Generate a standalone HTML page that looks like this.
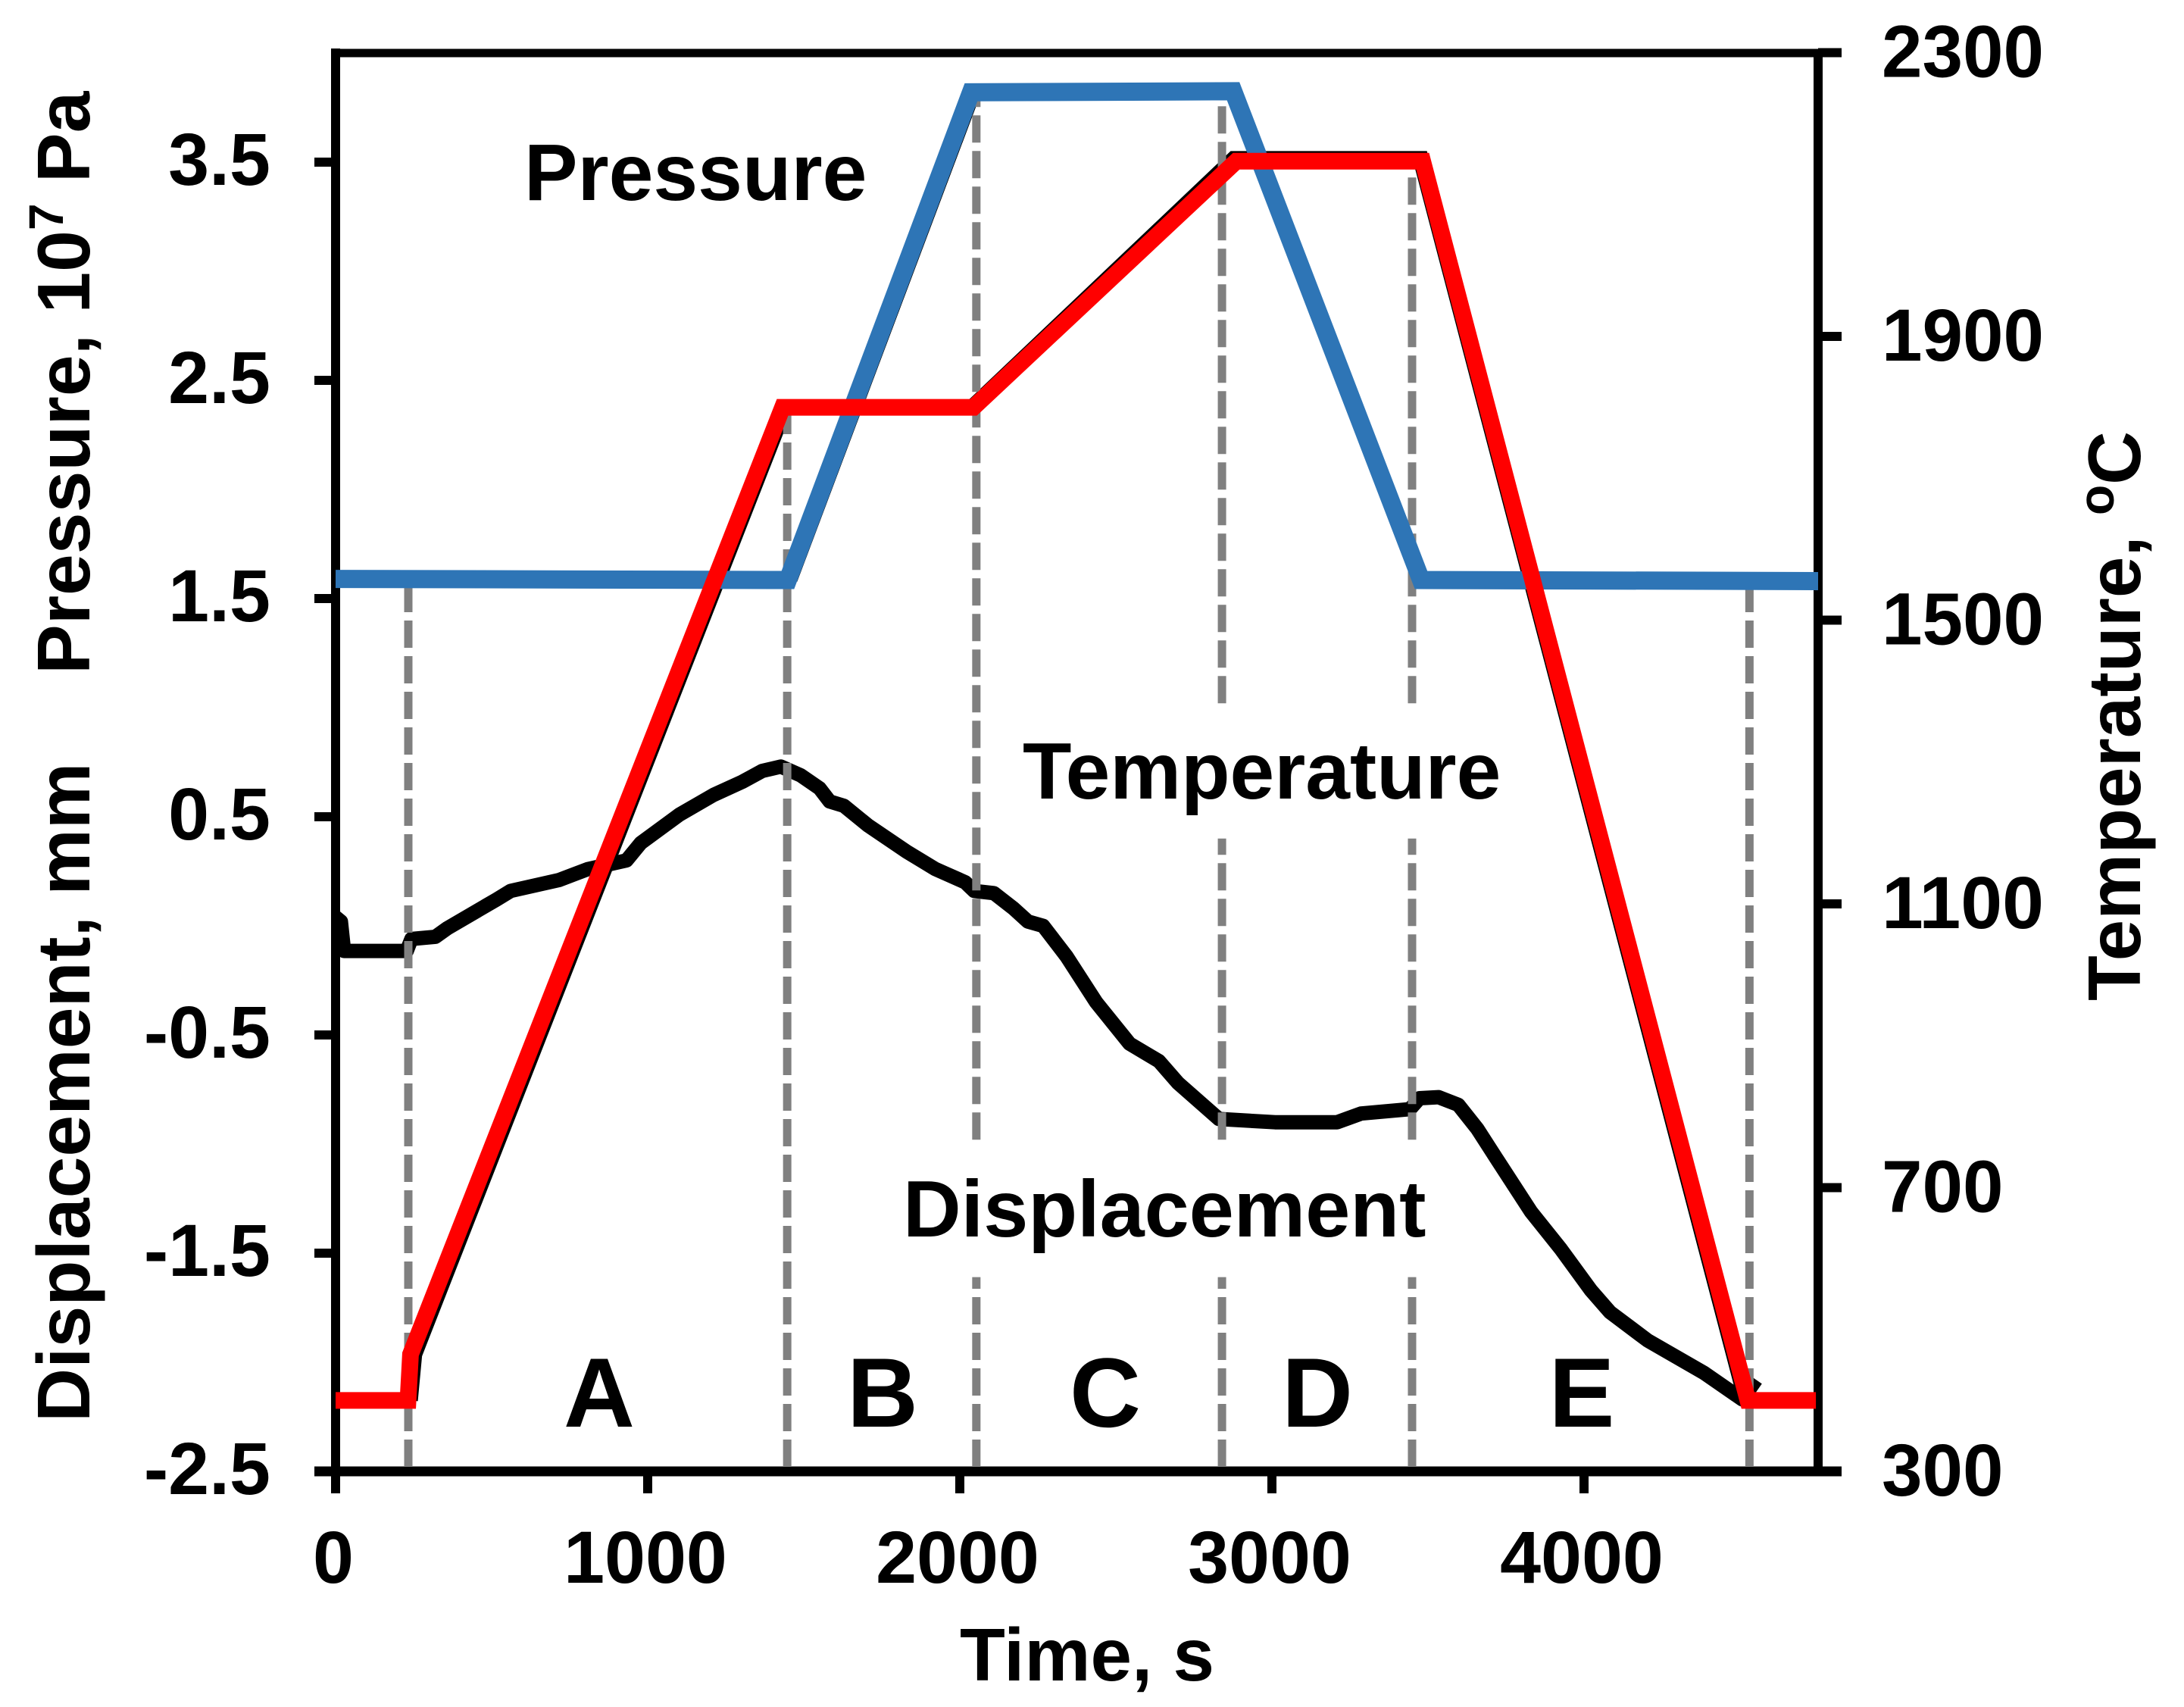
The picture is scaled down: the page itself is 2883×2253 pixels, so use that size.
<!DOCTYPE html>
<html lang="en">
<head>
<meta charset="utf-8">
<title>Pressure, temperature and displacement versus time</title>
<style>
html,body{margin:0;padding:0;background:#fff;}
svg{display:block;}
text{font-family:"Liberation Sans",Arial,sans-serif;font-weight:bold;fill:#000;}
</style>
</head>
<body>
<svg id="chart" xmlns="http://www.w3.org/2000/svg" width="2883" height="2253" viewBox="0 0 2883 2253">
  <rect x="0" y="0" width="2883" height="2253" fill="#ffffff"/>
  <g id="axes"></g>
  <g id="shadows"></g>
  <g id="black"></g>
  <g id="boundaries"></g>
  <g id="series"></g>
  <g id="ticklabels"></g>

  <text font-size="98.5" transform="translate(118 1877) rotate(-90)">Displacement, mm</text>
  <text font-size="98.5" transform="translate(118 890) rotate(-90)">Pressure, 10<tspan font-size="64" dy="-35">7</tspan><tspan dy="35"> Pa</tspan></text>
  <text font-size="98" transform="translate(2825 1321) rotate(-90)">Temperature, <tspan font-size="66" dy="-35">o</tspan><tspan dy="35">C</tspan></text>
  <text font-size="98" text-anchor="middle" x="1435" y="2218">Time, s</text>

  <text font-size="105.7" x="692" y="264">Pressure</text>
  <text font-size="105.5" x="1350" y="1054">Temperature</text>
  <text font-size="106.2" x="1192" y="1632">Displacement</text>

  <text font-size="130" text-anchor="middle" x="791" y="1883">A</text>
  <text font-size="130" text-anchor="middle" x="1165" y="1883">B</text>
  <text font-size="130" text-anchor="middle" x="1459" y="1883">C</text>
  <text font-size="130" text-anchor="middle" x="1739" y="1883">D</text>
  <text font-size="130" text-anchor="middle" x="2088" y="1883">E</text>
</svg>
<script>
// ---- chart data ----
const xTicks = [0, 1000, 2000, 3000, 4000];
const leftTicks = [-2.5, -1.5, -0.5, 0.5, 1.5, 2.5, 3.5];
const leftTickLabels = ["-2.5", "-1.5", "-0.5", "0.5", "1.5", "2.5", "3.5"];
const rightTicks = [300, 700, 1100, 1500, 1900, 2300];

const pressureTime = [0, 1449, 2036, 2876, 3478, 4750];
const pressureValue = [1.59, 1.585, 3.82, 3.825, 1.585, 1.58];

const temperatureTime = [0, 232, 240, 1432, 2044, 2886, 3483, 4525, 4743];
const temperatureValue = [400, 400, 465, 1800, 1800, 2147, 2147, 400, 400];

const measuredTempTime = [238, 252, 1440, 2040, 2878, 3477, 4519];
const measuredTempValue = [400, 465, 1800, 1800, 2150, 2150, 400];

const measuredPressTime = [1455, 2042];
const measuredPressValue = [1.59, 3.82];

const displacementTime = [0,17,27,228,243,320,359,515,561,716,808,932,978,1102,1211,1303,1367,1427,1490,1551,1583,1629,1706,1830,1922,2017,2046,2109,2172,2218,2267,2342,2437,2544,2638,2699,2830,3010,3209,3286,3442,3473,3534,3597,3658,3721,3830,3925,4022,4083,4204,4386,4507,4551];
const displacementValue = [0.04,0.02,-0.115,-0.115,-0.06,-0.05,-0.01,0.12,0.16,0.21,0.26,0.30,0.38,0.51,0.60,0.66,0.71,0.73,0.69,0.63,0.57,0.55,0.46,0.34,0.26,0.20,0.16,0.15,0.08,0.02,0.00,-0.14,-0.35,-0.54,-0.62,-0.72,-0.885,-0.90,-0.90,-0.86,-0.84,-0.79,-0.785,-0.82,-0.93,-1.07,-1.31,-1.48,-1.67,-1.77,-1.90,-2.05,-2.17,-2.08];

const boundaryTime = [233, 1447, 2053, 2840, 3449, 4530];
const boundaryTop = [1.57, 2.34, 3.86, 3.86, 3.51, 1.57];

// ---- axis functions ----
const NS = "http://www.w3.org/2000/svg";
const plotLeft = 443, plotRight = 2400, plotTop = 70, plotBottom = 1942;
function sx(t){ return plotLeft + t * 0.412; }
function leftY(v){ return plotBottom - (v + 2.5) * 288; }
function rightY(T){ return plotBottom - (T - 300) * 0.93625; }

function make(tag, parent){
  const el = document.createElementNS(NS, tag);
  parent.appendChild(el);
  return el;
}
function line(parent, x1, y1, x2, y2, w, color){
  const el = make("line", parent);
  el.setAttribute("x1", x1);
  el.setAttribute("y1", y1);
  el.setAttribute("x2", x2);
  el.setAttribute("y2", y2);
  el.setAttribute("stroke", color);
  el.setAttribute("stroke-width", w);
  return el;
}
function poly(parent, times, values, yFn, w, color, join){
  const el = make("polyline", parent);
  el.setAttribute("points", times.map((t, i) => sx(t).toFixed(1) + "," + yFn(values[i]).toFixed(1)).join(" "));
  el.setAttribute("fill", "none");
  el.setAttribute("stroke", color);
  el.setAttribute("stroke-width", w);
  el.setAttribute("stroke-linejoin", join);
  return el;
}
function label(parent, str, x, y, anchor){
  const el = make("text", parent);
  el.textContent = str;
  el.setAttribute("x", x);
  el.setAttribute("y", y);
  el.setAttribute("font-size", "97");
  el.setAttribute("text-anchor", anchor);
  return el;
}

const axes = document.getElementById("axes");
const shadows = document.getElementById("shadows");
const blackLayer = document.getElementById("black");
const boundaries = document.getElementById("boundaries");
const seriesLayer = document.getElementById("series");
const tickLabels = document.getElementById("ticklabels");

// frame
let frameEl;
frameEl = line(axes, plotLeft, plotTop - 6, plotLeft, plotBottom + 29, 12, "#000");


frameEl = line(axes, plotRight, plotTop, plotRight, plotBottom + 6, 12, "#000");


frameEl = line(axes, plotLeft - 6, plotTop, 2431, plotTop, 11, "#000");


frameEl = line(axes, 415, plotBottom, 2431, plotBottom, 13, "#000");



// x ticks
xTicks.forEach(function(t){
  const tick = line(axes, sx(t), plotBottom, sx(t), plotBottom + 29, 12, "#000");
  
  
  const lab = label(tickLabels, String(t), sx(t) - 3, 2089, "middle");
  
  
});

// left ticks
leftTicks.forEach(function(v, i){
  const tick = line(axes, 415, leftY(v), plotLeft, leftY(v), 12, "#000");
  
  
  const lab = label(tickLabels, leftTickLabels[i], 357, leftY(v) + 30, "end");
  
  
});

// right ticks
rightTicks.forEach(function(T){
  const tick = line(axes, plotRight, rightY(T), 2431, rightY(T), 12, "#000");
  
  
  const str = String(T);
  const lab = label(tickLabels, str, 2484, rightY(T) + 32, "start");
  lab.setAttribute("textLength", String(str.length * 53.5));
  lab.setAttribute("lengthAdjust", "spacingAndGlyphs");
  
  
});

// thin black traces peeking out behind the coloured set-point lines
const tempShadow = poly(shadows, measuredTempTime, measuredTempValue, rightY, 21, "#000", "miter");


const pressShadow = poly(shadows, measuredPressTime, measuredPressValue, leftY, 21, "#000", "miter");



// displacement
const dispLine = poly(blackLayer, displacementTime, displacementValue, leftY, 19, "#000", "round");



// stage boundaries, drawn from the axis upward, with gaps behind the text labels
const temperatureGapTop = 1.02, temperatureGapBottom = 0.40;
const displacementGapTop = -0.98, displacementGapBottom = -1.61;
boundaryTime.forEach(function(t, i){
  const spans = [];
  let from = -2.5;
  const crossesDisp = i >= 2 && i <= 4;
  const crossesTemp = i >= 3 && i <= 4;
  if (crossesDisp) { spans.push([from, displacementGapBottom]); from = displacementGapTop; }
  if (crossesTemp) { spans.push([from, temperatureGapBottom]); from = temperatureGapTop; }
  spans.push([from, boundaryTop[i]]);
  spans.forEach(function(s){
    const seg = line(boundaries, sx(t), leftY(s[0]) - 6, sx(t), leftY(s[1]), 11, "#808080");
    if (s[0] !== -2.5) seg.setAttribute("y1", leftY(s[0]));
    seg.setAttribute("stroke-dasharray", "36 11");
    
    
  });
});

// pressure and temperature
const pressureLine = poly(seriesLayer, pressureTime, pressureValue, leftY, 24, "#2e75b6", "miter");


const temperatureLine = poly(seriesLayer, temperatureTime, temperatureValue, rightY, 22, "#ff0000", "miter");


</script>
</body>
</html>
